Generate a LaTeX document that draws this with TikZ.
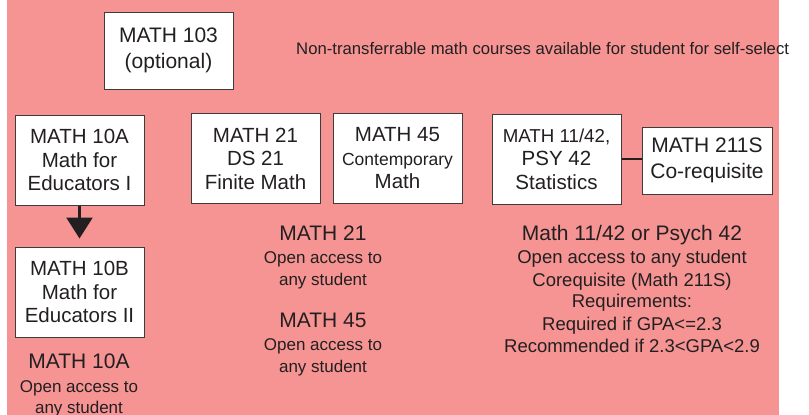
\documentclass[tikz,border=0pt]{standalone}
\usepackage{fontspec}
\setmainfont{Liberation Sans}
\usetikzlibrary{arrows.meta}
\definecolor{bg}{RGB}{245,148,147}
\definecolor{ink}{RGB}{35,31,32}
\definecolor{edge}{RGB}{60,60,60}
\newcommand{\fs}[2]{\fontsize{#1}{#2}\selectfont}
\begin{document}
\begin{tikzpicture}[x=1pt,y=-1pt,
  box/.style={draw=edge, line width=1pt, fill=white, minimum width=129pt, minimum height=90pt, inner sep=0pt, align=center, text=ink, font=\fs{20.5}{23.5}},
  lbl/.style={anchor=base, inner sep=0pt, text=ink},
  big/.style={lbl, font=\fs{21}{24}},
  small/.style={lbl, font=\fs{17}{20}},
  mid/.style={lbl, font=\fs{18.5}{22}},
  ]
\useasboundingbox (0,0) rectangle (809,415);
\fill[bg] (7,0) rectangle (779,415);

\node[anchor=base west, inner sep=0pt, text=ink, font=\fs{16.7}{20}] (note) at (296,54) {Non-transferrable math courses available for student for self-select};

\node[box, minimum height=77pt, font=\fs{21}{26}] (m103) at (168.5,50.5) {MATH 103\\(optional)};
\node[box] (m10a) at (79.5,160) {MATH 10A\\Math for\\Educators I};
\node[box] (m21) at (255.5,158.5) {MATH 21\\DS 21\\Finite Math};
\node[box] (m45) at (397.5,158.5) {MATH 45\\{\fs{17.5}{23.5}Contemporary}\\Math};
\node[box] (m1142) at (556.5,159) {{\fs{18.7}{23.5}MATH 11/42,}\\PSY 42\\Statistics};
\node[box, minimum width=130pt, minimum height=67pt, font=\fs{21}{26}] (m211) at (707,160.5) {MATH 211S\\Co-requisite};
\node[box] (m10b) at (79.5,292) {MATH 10B\\Math for\\Educators II};

\draw[ink, line width=2.5pt, shorten >=8pt, -{Triangle[length=21pt,width=26pt]}] (m10a.south) -- (m10b.north);
\draw[ink, line width=2pt] (m1142.east) -- (m1142.east -| m211.west);

\node[big] (a1) at (79,368) {MATH 10A};
\node[small] (a2) at (79,392) {Open access to};
\node[small] (a3) at (79,413) {any student};

\node[big] (b1) at (323,240) {MATH 21};
\node[small] (b2) at (323,263) {Open access to};
\node[small] (b3) at (323,285) {any student};
\node[big] (b4) at (323,327) {MATH 45};
\node[small] (b5) at (323,350) {Open access to};
\node[small] (b6) at (323,372) {any student};

\node[big] (c1) at (632,240) {Math 11/42 or Psych 42};
\node[mid] (c2) at (632,263) {Open access to any student};
\node[mid] (c3) at (632,286) {Corequisite (Math 211S)};
\node[mid] (c4) at (632,307) {Requirements:};
\node[mid] (c5) at (632,330) {Required if GPA<=2.3};
\node[mid] (c6) at (632,352) {Recommended if 2.3<GPA<2.9};
\end{tikzpicture}
\end{document}
